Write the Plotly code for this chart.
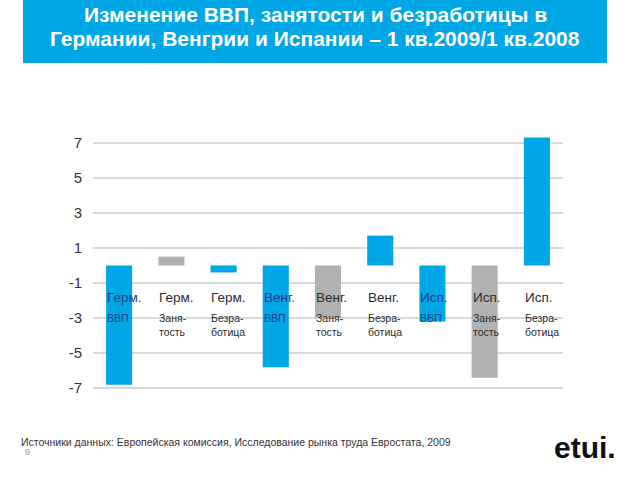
import plotly.graph_objects as go

# ---- data ----
countries = ["Герм.", "Герм.", "Герм.", "Венг.", "Венг.", "Венг.", "Исп.", "Исп.", "Исп."]
indicators = ["ВВП", "Занятость", "Безработица"] * 3
indicator_labels = ["ВВП", "Заня-<br>тость", "Безра-<br>ботица"] * 3
values = [-6.8, 0.5, -0.4, -5.8, -3.0, 1.7, -3.2, -6.4, 7.3]
tick_values = [-7, -5, -3, -1, 1, 3, 5, 7]

title_lines = ["Изменение ВВП, занятости и безработицы в",
               "Германии, Венгрии и Испании – 1 кв.2009/1 кв.2008"]
source_text = "Источники данных: Европейская комиссия, Исследование рынка труда Евростата, 2009"

# ---- layout geometry (pixels, page coordinates; body margin removed below) ----
W, H = 640, 480
PW, PH = 470, 258
ML, MT = 93, 136
MR, MB = W - ML - PW, H - MT - PH

def px_x(px):
    return (px - ML) / PW

def px_y(py):
    return (MT + PH - py) / PH

BLUE = "#00a7e6"
GRAY = "#b1b1b1"
color_map = {"ВВП": BLUE, "Занятость": GRAY, "Безработица": BLUE}
bar_colors = [color_map[k] for k in indicators]

fig = go.Figure(go.Bar(
    x=list(range(len(values))), y=values,
    marker=dict(color=bar_colors, line=dict(width=0)),
    width=0.5, hoverinfo="skip",
))

annotations = []
for i, (c, k, lab) in enumerate(zip(countries, indicators, indicator_labels)):
    col = "#1d3d85" if k == "ВВП" else "#2b2b2b"
    annotations.append(dict(x=i - 0.27, y=-1.85, xref="x", yref="y", text=c,
                            xanchor="left", yanchor="middle", showarrow=False,
                            font=dict(family="Liberation Sans, Arial", size=13.5, color=col)))
    annotations.append(dict(x=i - 0.27, y=-2.55, xref="x", yref="y", text=lab,
                            xanchor="left", yanchor="top", showarrow=False, align="left",
                            font=dict(family="Liberation Sans, Arial", size=10.5, color=col)))

# title (two lines placed separately, anchored at their top)
for line, ty in zip(title_lines, [2, 26]):
    annotations.append(dict(x=px_x(315), y=px_y(ty), xref="paper", yref="paper",
                            text="<b>" + line + "</b>", showarrow=False,
                            xanchor="center", yanchor="top", align="center", borderpad=0,
                            font=dict(family="Liberation Sans, Arial", size=21, color="white")))
# source
annotations.append(dict(x=px_x(19), y=px_y(442), xref="paper", yref="paper",
                        text=source_text, showarrow=False, xanchor="left", yanchor="middle",
                        font=dict(family="Liberation Sans, Arial", size=10.5, color="#333333")))
annotations.append(dict(x=px_x(23), y=px_y(452), xref="paper", yref="paper",
                        text="9", showarrow=False, xanchor="left", yanchor="middle",
                        font=dict(family="Liberation Sans, Arial", size=9, color="#999999")))
annotations.append(dict(x=px_x(585), y=px_y(447), xref="paper", yref="paper",
                        text="<b>etui.</b>", showarrow=False, xanchor="center", yanchor="middle",
                        font=dict(family="Liberation Sans, Arial", size=30, color="#111111")))

fig.update_layout(
    width=W, height=H,
    margin=dict(l=ML, r=MR, t=MT, b=MB, pad=0),
    paper_bgcolor="white", plot_bgcolor="white",
    showlegend=False,
    xaxis=dict(range=[-0.5, len(values) - 0.5], showticklabels=False, showgrid=False,
               zeroline=False, showline=False, fixedrange=True),
    yaxis=dict(range=[-7.33, 7.38], tickvals=tick_values, ticktext=[str(v) for v in tick_values],
               showgrid=True, gridcolor="#d9d9d9", gridwidth=1.5, zeroline=False, showline=False,
               ticks="", ticklabelstandoff=10,
               tickfont=dict(family="Liberation Sans Narrow, Arial Narrow, Liberation Sans", size=15, color="#333333")),
    shapes=[dict(type="rect", xref="paper", yref="paper",
                 x0=px_x(23), x1=px_x(607), y0=px_y(63), y1=px_y(0),
                 fillcolor=BLUE, line=dict(width=0), layer="below")],
    annotations=annotations,
)

fig.write_html("out.html", config={"displayModeBar": False},
               post_script="document.body.style.margin='0';document.body.style.overflow='hidden';")
